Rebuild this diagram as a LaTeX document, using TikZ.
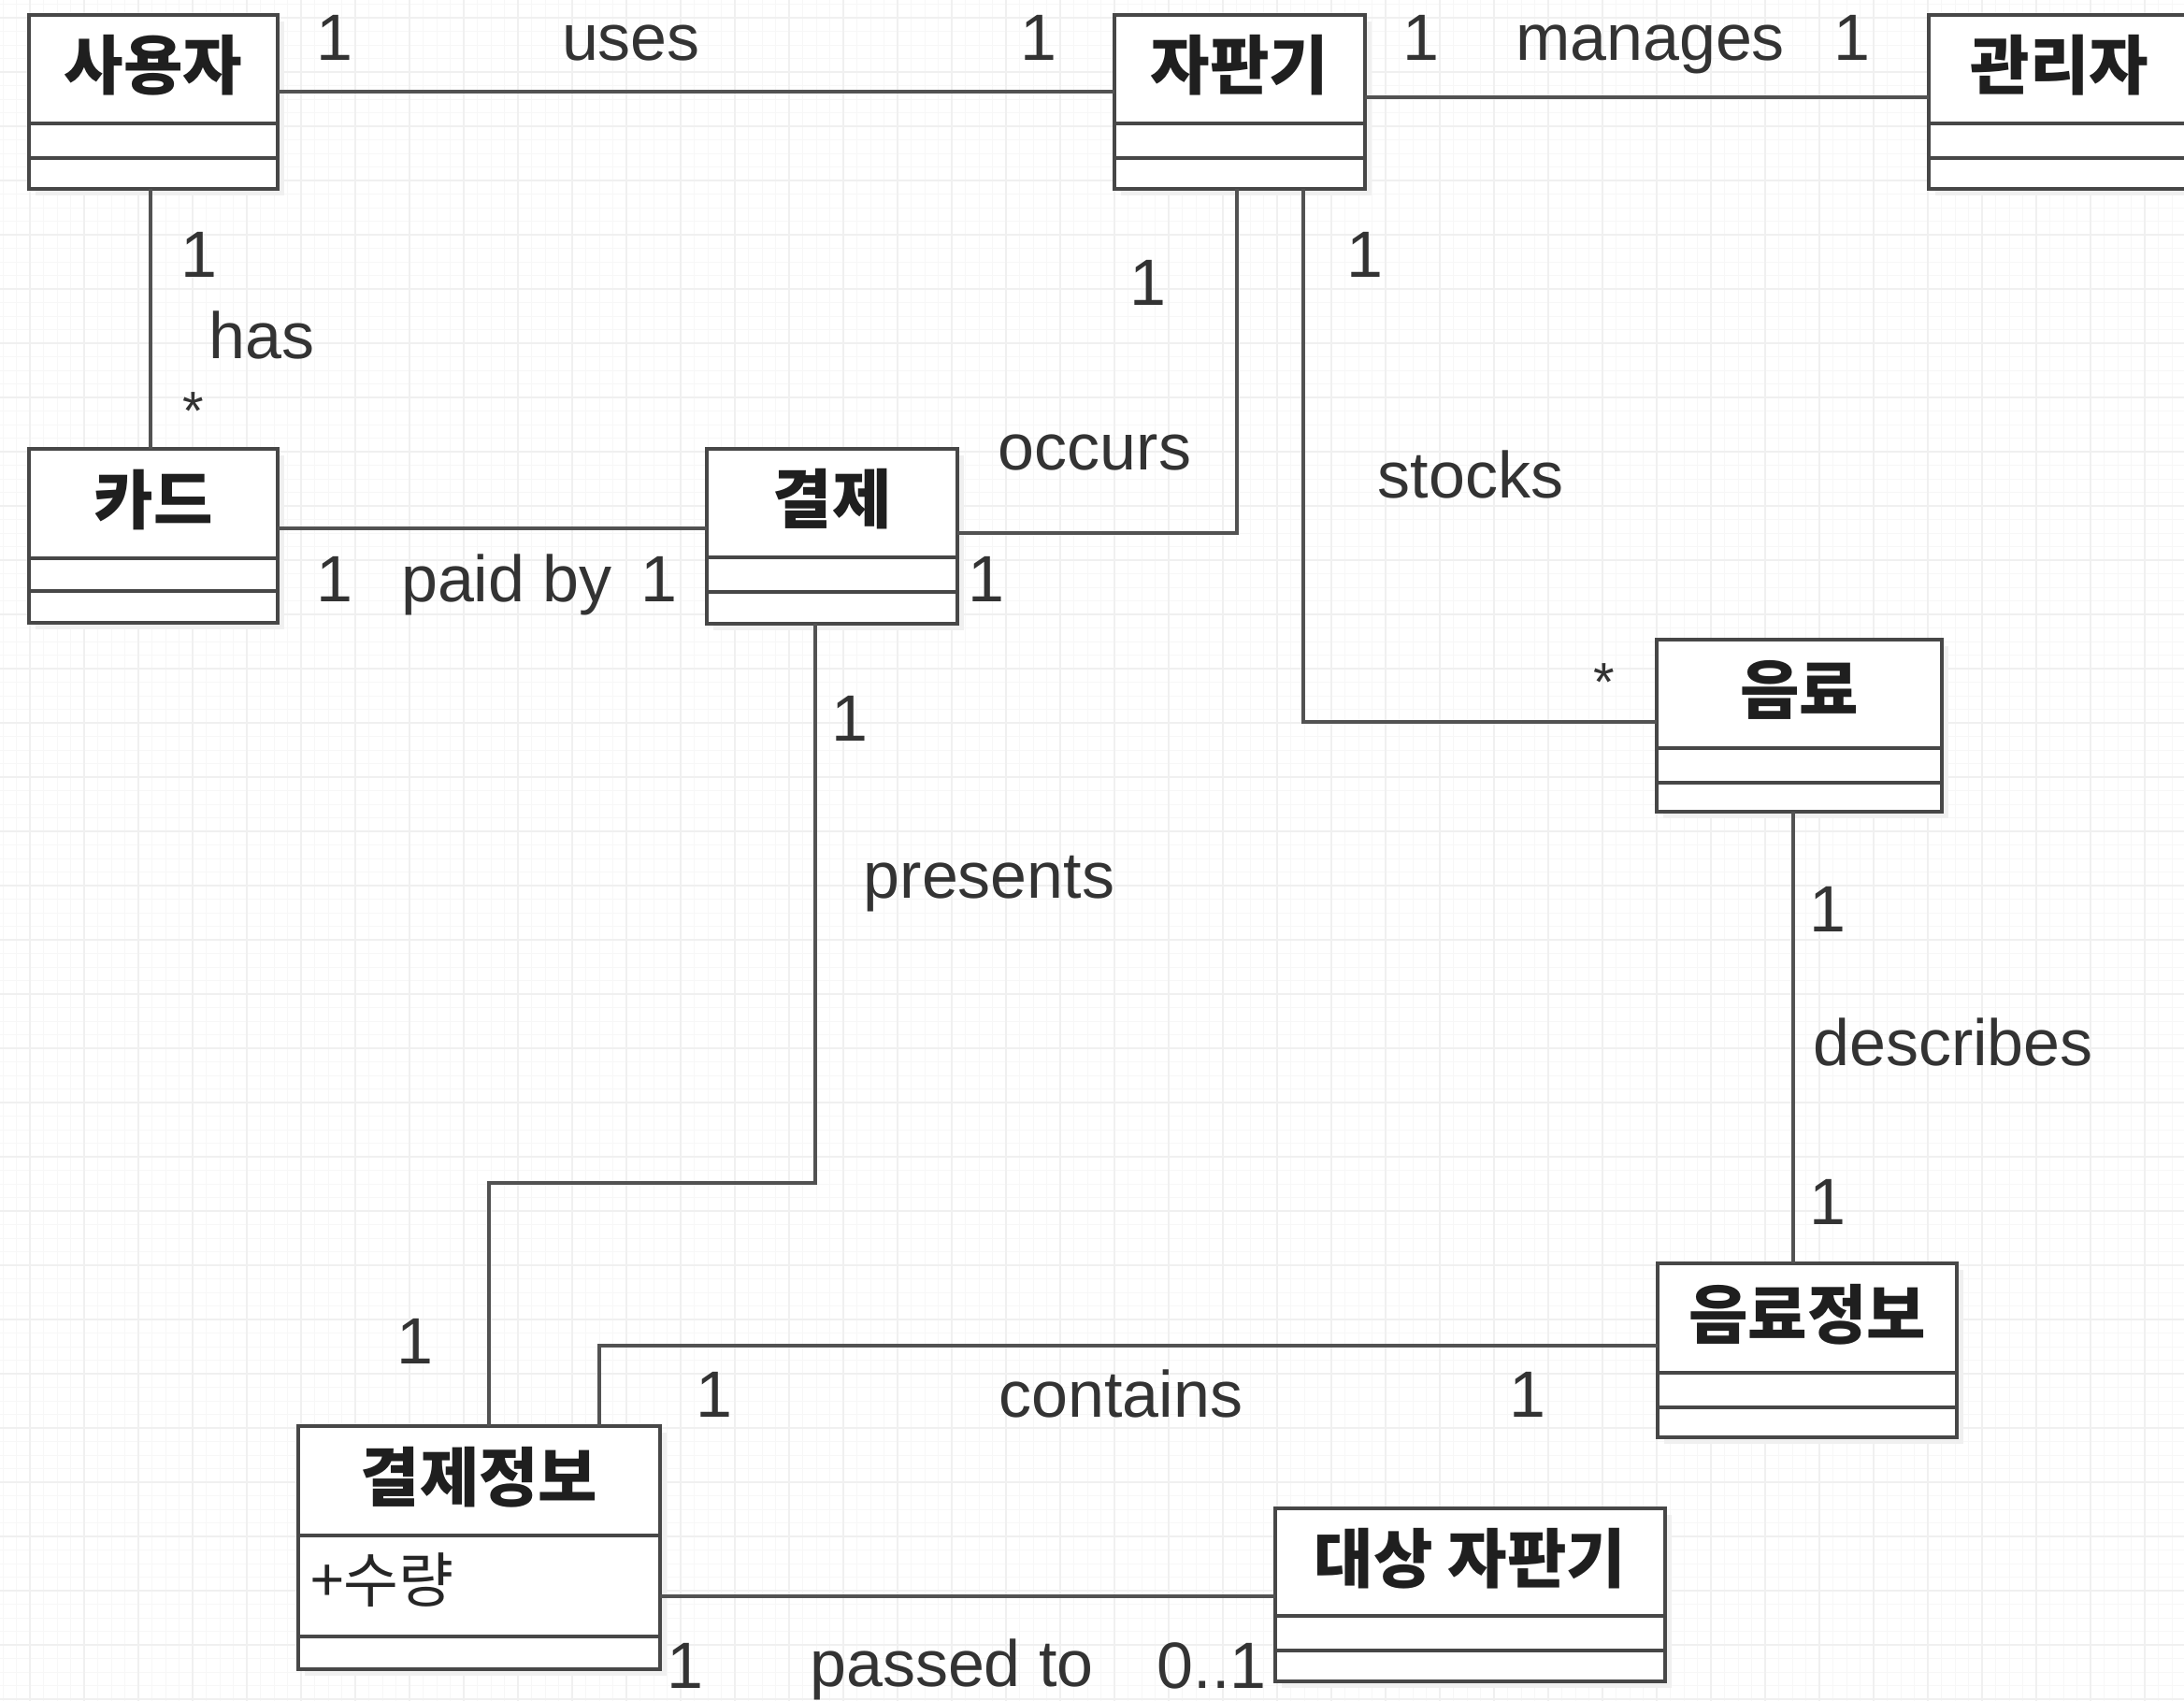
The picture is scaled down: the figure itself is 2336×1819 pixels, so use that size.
\documentclass[tikz,border=0pt]{standalone}
\usepackage{fontspec}
\setmainfont{Liberation Sans}
\newfontfamily\kr{Noto Sans CJK KR}
\usetikzlibrary{calc}
\tikzset{
  lbl/.style={font=\fontsize{70}{84}\selectfont, text=black!80, inner sep=0pt, text height=50pt, text depth=0pt},
  star/.style={font=\fontsize{58}{70}\selectfont, text=black!80, inner sep=0pt},
  ttl/.style={font=\kr\bfseries\fontsize{69}{80}\selectfont, text=black!88, inner sep=0pt},
  attr/.style={font=\kr\fontsize{64}{74}\selectfont, text=black!85, inner sep=0pt},
  classbox/.style={draw=black!72, line width=3.5pt, fill=white, inner sep=0pt, outer sep=0pt},
  divider/.style={draw=black!72, line width=3.5pt},
  conn/.style={draw=black!68, line width=3.5pt},
  shadowc/.style={fill=black!6},
  gridmajor/.style={draw=black!6, line width=1.2pt},
  gridminor/.style={draw=black!3, line width=0.8pt},
}
\newcommand\umlclass[8]{%
  \fill[shadowc] (#2+7,#3+7) rectangle (#4+7,#5+7);
  \node[classbox, anchor=north west, minimum width={#4-#2}, minimum height={#5-#3}] (#1) at (#2,#3) {};
  \draw[divider] (#2,#6) -- (#4,#6);
  \draw[divider] (#2,#7) -- (#4,#7);
  \node[ttl] (#1T) at ({(#2+#4)/2},{(#3+#6)/2-4}) {#8};
}
\begin{document}
\begin{tikzpicture}[x=1pt,y=-1pt]
\useasboundingbox (0,0) rectangle (2336,1819);
\clip (0,0) rectangle (2336,1819);
\fill[white] (0,0) rectangle (2336,1819);
% background grid
\foreach \x in {3,17.5,...,2340} \draw[gridminor] (\x,0) -- (\x,1819);
\foreach \y in {4.5,19,...,1830} \draw[gridminor] (0,\y) -- (2336,\y);
\foreach \x in {32,90,...,2340} \draw[gridmajor] (\x,0) -- (\x,1819);
\foreach \y in {19,77,...,1830} \draw[gridmajor] (0,\y) -- (2336,\y);

% classes
\umlclass{user}{31}{16}{297}{202}{132}{169}{사용자}
\umlclass{vm}{1192}{16}{1460}{202}{132}{169}{자판기}
\umlclass{mgr}{2063}{16}{2343}{202}{132}{169}{관리자}
\umlclass{card}{31}{480}{297}{666}{597}{632}{카드}
\umlclass{pay}{756}{480}{1024}{667}{596}{633}{결제}
\umlclass{drink}{1772}{684}{2077}{868}{800}{837}{음료}
\umlclass{drinkinfo}{1773}{1351}{2093}{1537}{1468}{1505}{음료정보}
\umlclass{payinfo}{319}{1525}{706}{1785}{1642}{1750}{결제정보}
\umlclass{target}{1364}{1613}{1781}{1798}{1728}{1765}{대상 자판기}
\node[attr, anchor=west] (payinfoA) at (332,1690) {+수량};

% connectors
\coordinate (presBend) at (700,1265);
\draw[conn] ([yshift=11pt]user.east) -- ([yshift=11pt]user.east -| vm.west);
\draw[conn] ([yshift=5pt]vm.east) -- ([yshift=5pt]vm.east -| mgr.west);
\draw[conn] ([xshift=-3pt]user.south) -- ([xshift=-3pt]user.south |- card.north);
\draw[conn] ([yshift=8pt]card.east) -- ([yshift=8pt]card.east -| pay.west);
\draw[conn] ([xshift=-3pt]vm.south) |- ([yshift=3.5pt]pay.east);
\draw[conn] ([xshift=68pt]vm.south) |- ([yshift=4pt]drink.west);
\draw[conn] ([xshift=-18pt]pay.south) |- (presBend) -| ([xshift=10.5pt]payinfo.north);
\draw[conn] ([xshift=-6.5pt]drink.south) -- ([xshift=-6.5pt]drink.south |- drinkinfo.north);
\draw[conn] ([xshift=128.5pt]payinfo.north) |- ([yshift=5pt]drinkinfo.west);
\draw[conn] ([yshift=-52pt]payinfo.east) -- ([yshift=-52pt]payinfo.east -| target.west);

% labels
\node[lbl] (l1) at (358,40) {1};
\node[lbl] (l2) at (675,40) {uses};
\node[lbl] (l3) at (1111,40) {1};
\node[lbl] (l4) at (1520,40) {1};
\node[lbl] (l5) at (1765,40) {manages};
\node[lbl] (l6) at (1981,40) {1};
\node[lbl] (l7) at (213,271) {1};
\node[lbl] (l8) at (280,358) {has};
\node[star] (l9) at (207,440) {*};
\node[lbl] (l10) at (358,618) {1};
\node[lbl] (l11) at (542,618) {paid by};
\node[lbl] (l12) at (705,618) {1};
\node[lbl] (l13) at (1228,301) {1};
\node[lbl] (l14) at (1171,477) {occurs};
\node[lbl] (l15) at (1055,618) {1};
\node[lbl] (l16) at (1460,271) {1};
\node[lbl] (l17) at (1573,507) {stocks};
\node[star] (l18) at (1716,730) {*};
\node[lbl] (l19) at (909,767) {1};
\node[lbl] (l20) at (1058,935) {presents};
\node[lbl] (l21) at (444,1433) {1};
\node[lbl] (l22) at (1955,971) {1};
\node[lbl] (l23) at (2089,1114) {describes};
\node[lbl] (l24) at (1955,1284) {1};
\node[lbl] (l25) at (764,1490) {1};
\node[lbl] (l26) at (1199,1490) {contains};
\node[lbl] (l27) at (1634,1490) {1};
\node[lbl] (l28) at (733,1780) {1};
\node[lbl] (l29) at (1018,1778) {passed to};
\node[lbl] (l30) at (1296,1780) {0..1};
\end{tikzpicture}
\end{document}
